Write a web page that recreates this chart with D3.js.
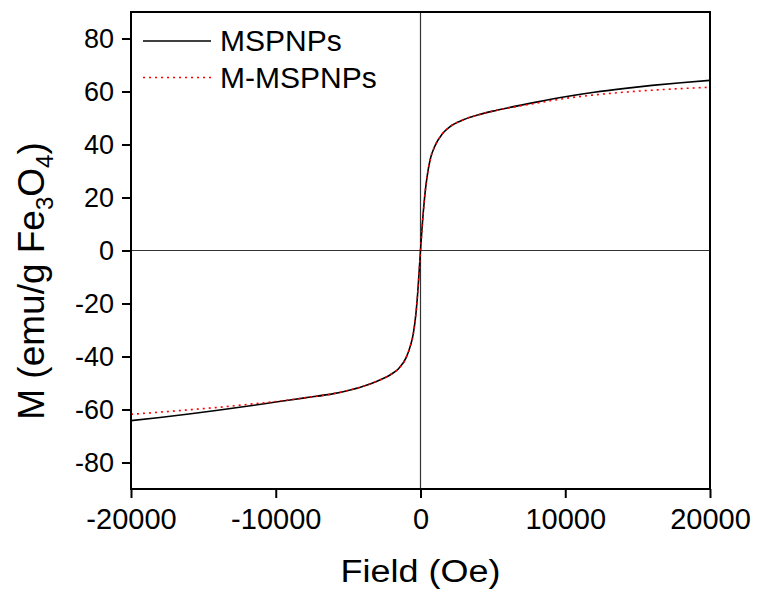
<!DOCTYPE html>
<html>
<head>
<meta charset="utf-8">
<script src="https://cdn.jsdelivr.net/npm/d3@7"></script>
<style>
  body { margin: 0; background: #fff; }
  text { font-family: 'Liberation Sans', Arial, sans-serif; fill: #000; }
</style>
</head>
<body>
<div id="chart"></div>
<script>
// field values (Oe)
const fields = [-20000, -18000, -16000, -14000, -12000, -10000, -8000, -6000, -5000, -4000,
  -3000, -2000, -1500, -1000, -700, -500, -300, -200, -100, 0,
  100, 200, 300, 500, 700, 1000, 1500, 2000, 3000, 4000,
  5000, 6000, 8000, 10000, 12000, 14000, 16000, 18000, 20000];

// magnetisation, emu/g Fe3O4
const mspnps = [-64.2, -63.0, -61.7, -60.3, -58.8, -57.2, -55.6, -54.0, -52.8, -51.3,
  -49.3, -46.6, -44.5, -40.5, -36.0, -31.5, -23.0, -16.5, -8.5, 0,
  8.0, 15.0, 21.0, 29.5, 35.0, 39.5, 44.0, 46.6, 49.4, 51.2,
  52.6, 53.8, 56.0, 58.0, 59.7, 61.1, 62.3, 63.3, 64.2];

const mMspnps = [-61.8, -61.0, -60.1, -59.2, -58.1, -57.0, -55.6, -54.0, -52.8, -51.3,
  -49.3, -46.6, -44.5, -40.5, -36.0, -31.5, -23.0, -16.5, -8.5, 0,
  8.0, 15.0, 21.0, 29.5, 35.0, 39.5, 44.0, 46.6, 49.4, 51.2,
  52.6, 53.7, 55.6, 57.4, 58.7, 59.7, 60.5, 61.1, 61.6];

const xTicks = [-20000, -10000, 0, 10000, 20000];
const yTicks = [-80, -60, -40, -20, 0, 20, 40, 60, 80];

const seriesNames = ['MSPNPs', 'M-MSPNPs'];

const width = 759, height = 597;
const plot = { left: 131, right: 710, top: 12, bottom: 489 };

const svg = d3.select('#chart')
  .append('svg')
  .attr('width', width)
  .attr('height', height);

const x = d3.scaleLinear()
  .domain([-20000, 20000])
  .range([plot.left, plot.right]);

const y = d3.scaleLinear()
  .domain([-90, 90])
  .range([plot.bottom, plot.top]);

// zero lines
svg.append('line')
  .attr('x1', x(0)).attr('x2', x(0))
  .attr('y1', plot.top).attr('y2', plot.bottom)
  .attr('stroke', '#333').attr('stroke-width', 1.2);

svg.append('line')
  .attr('x1', plot.left).attr('x2', plot.right)
  .attr('y1', y(0)).attr('y2', y(0))
  .attr('stroke', '#333').attr('stroke-width', 1.2);

const line = d3.line()
  .x((d) => x(d[0]))
  .y((d) => y(d[1]))
  .curve(d3.curveMonotoneX);

svg.append('path')
  .datum(fields.map((f, i) => [f, mspnps[i]]))
  .attr('d', line)
  .attr('fill', 'none')
  .attr('stroke', '#000')
  .attr('stroke-width', 1.6);

svg.append('path')
  .datum(fields.map((f, i) => [f, mMspnps[i]]))
  .attr('d', line)
  .attr('fill', 'none')
  .attr('stroke', '#ff0000')
  .attr('stroke-width', 1.6)
  .attr('stroke-dasharray', '2,4');

// axes
const xAxis = d3.axisBottom(x)
  .tickValues(xTicks)
  .tickFormat((d) => String(d))
  .tickSize(9)
  .tickPadding(10);

const yAxis = d3.axisLeft(y)
  .tickValues(yTicks)
  .tickFormat((d) => String(d))
  .tickSize(9)
  .tickPadding(8);

const gx = svg.append('g')
  .attr('transform', 'translate(0,' + plot.bottom + ')')
  .call(xAxis);
gx.select('.domain').remove();
gx.selectAll('line').attr('stroke-width', 2);
gx.selectAll('text')
  .attr('font-size', 29)
  .attr('font-family', "'Liberation Sans', Arial, sans-serif");

const gy = svg.append('g')
  .attr('transform', 'translate(' + plot.left + ',0)')
  .call(yAxis);
gy.select('.domain').remove();
gy.selectAll('line').attr('stroke-width', 2);
gy.selectAll('text')
  .attr('font-size', 27)
  .attr('font-family', "'Liberation Sans', Arial, sans-serif");

// frame
svg.append('rect')
  .attr('x', plot.left)
  .attr('y', plot.top)
  .attr('width', plot.right - plot.left)
  .attr('height', plot.bottom - plot.top)
  .attr('fill', 'none')
  .attr('stroke', '#000')
  .attr('stroke-width', 2);

// axis titles
svg.append('text')
  .attr('transform', 'translate(' + ((plot.left + plot.right) / 2) + ',582) scale(1,0.85)')
  .attr('text-anchor', 'middle')
  .attr('font-size', 36)
  .text('Field (Oe)');

const yTitle = svg.append('text')
  .attr('transform', 'translate(44,281) rotate(-90)')
  .attr('text-anchor', 'middle')
  .attr('font-size', 37);
yTitle.append('tspan').text('M (emu/g Fe');
yTitle.append('tspan').attr('font-size', 24).attr('dy', 9).text('3');
yTitle.append('tspan').attr('dy', -9).text('O');
yTitle.append('tspan').attr('font-size', 24).attr('dy', 9).text('4');
yTitle.append('tspan').attr('dy', -9).text(')');

// legend
const legend = svg.append('g');
const legendStyles = [
  { stroke: '#000', dash: null },
  { stroke: '#ff0000', dash: '2,4' }
];
seriesNames.forEach((name, i) => {
  const ly = 41 + i * 36.5;
  legend.append('line')
    .attr('x1', 143).attr('x2', 211)
    .attr('y1', ly).attr('y2', ly)
    .attr('stroke', legendStyles[i].stroke)
    .attr('stroke-width', 1.4)
    .attr('stroke-dasharray', legendStyles[i].dash);
  legend.append('text')
    .attr('x', 220)
    .attr('y', ly + 10)
    .attr('font-size', 30)
    .text(name);
});
</script>
</body>
</html>
